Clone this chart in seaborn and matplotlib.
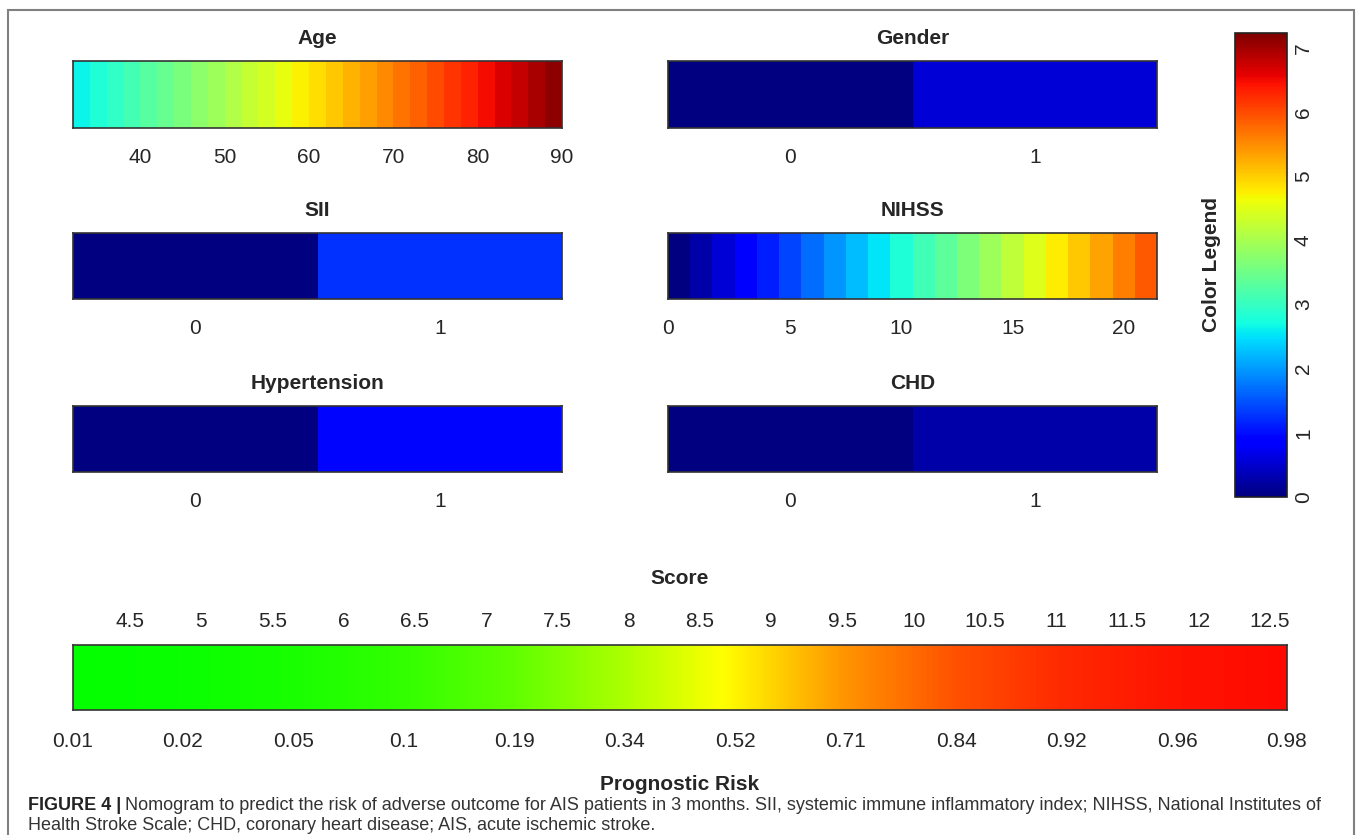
import numpy as np
import pandas as pd
import seaborn as sns
import matplotlib.pyplot as plt
from matplotlib.colors import LinearSegmentedColormap, Normalize
from matplotlib.cm import ScalarMappable
from matplotlib.patches import Rectangle

sns.set_theme(style='white')
plt.rcParams['font.family'] = ['Liberation Sans', 'DejaVu Sans']

# ---------------- values ----------------
age_edges = [32, 34, 36, 38, 40, 42, 44, 46, 48, 50, 52, 54, 56, 58, 60,
             62, 64, 66, 68, 70, 72, 74, 76, 78, 80, 82, 84, 86, 88, 90]
age_points = [2.64, 2.80, 2.96, 3.12, 3.28, 3.44, 3.60, 3.76, 3.92, 4.08,
              4.24, 4.40, 4.56, 4.72, 4.88, 5.04, 5.20, 5.36, 5.52, 5.68,
              5.84, 6.00, 6.16, 6.32, 6.48, 6.64, 6.80, 6.96, 7.12]
age_ticks = [40, 50, 60, 70, 80, 90]

nihss_edges = [0, 0.5, 1.5, 2.5, 3.5, 4.5, 5.5, 6.5, 7.5, 8.5, 9.5, 10.5,
               11.5, 12.5, 13.5, 14.5, 15.5, 16.5, 17.5, 18.5, 19.5, 20.5, 21]
nihss_points = [0.00, 0.28, 0.56, 0.84, 1.12, 1.40, 1.68, 1.96, 2.24, 2.52,
                2.80, 3.08, 3.36, 3.64, 3.92, 4.20, 4.48, 4.76, 5.04, 5.32,
                5.60, 5.88]
nihss_ticks = [0, 5, 10, 15, 20]

binary_levels = ['0', '1']
gender_points = [0.0, 0.56]
sii_points = [0.0, 1.27]
hypertension_points = [0.0, 0.95]
chd_points = [0.0, 0.27]

score_range = [4.1, 12.62]
score_ticks = [4.5, 5, 5.5, 6, 6.5, 7, 7.5, 8, 8.5, 9, 9.5, 10, 10.5, 11,
               11.5, 12, 12.5]
score_labels = ['4.5', '5', '5.5', '6', '6.5', '7', '7.5', '8', '8.5', '9',
                '9.5', '10', '10.5', '11', '11.5', '12', '12.5']
risk_scores = [4.1, 4.87, 5.65, 6.42, 7.2, 7.97, 8.75, 9.52, 10.3, 11.07,
               11.85, 12.62]
risk_values = [0.01, 0.02, 0.05, 0.1, 0.19, 0.34, 0.52, 0.71, 0.84, 0.92,
               0.96, 0.98]
risk_labels = ['0.01', '0.02', '0.05', '0.1', '0.19', '0.34', '0.52', '0.71',
               '0.84', '0.92', '0.96', '0.98']

legend_ticks = [0, 1, 2, 3, 4, 5, 6, 7]
points_max = 7.23

# ---------------- figure ----------------
W, H = 1357, 835
fig = plt.figure(figsize=(W / 100, H / 100), dpi=100)


def box(x0, y0, x1, y1):
    # pixel box (top-left origin) -> figure fraction
    return [x0 / W, 1 - y1 / H, (x1 - x0) / W, (y1 - y0) / H]


def frame(ax):
    for s in ax.spines.values():
        s.set_visible(True)
        s.set_color('#333333')
        s.set_linewidth(1.2)


def draw_bar(ax, title, points, edges=None, ticks=None):
    sns.heatmap(pd.DataFrame([points]), ax=ax, cmap='jet', vmin=0,
                vmax=points_max, cbar=False, yticklabels=False,
                xticklabels=binary_levels if edges is None else False)
    if edges is not None:
        ax.set_xticks(np.interp(ticks, edges, np.arange(len(edges))))
        ax.set_xticklabels([str(t) for t in ticks])
    frame(ax)
    ax.tick_params(axis='x', length=0, pad=14.5, labelsize=15, labelrotation=0)
    ax.set_title(title, fontsize=15, fontweight='bold', pad=12)


rows = [(61, 128), (233, 299), (406, 472)]
cols = [(73, 562), (668, 1157)]

draw_bar(fig.add_axes(box(cols[0][0], rows[0][0], cols[0][1], rows[0][1])),
         'Age', age_points, age_edges, age_ticks)
draw_bar(fig.add_axes(box(cols[1][0], rows[0][0], cols[1][1], rows[0][1])),
         'Gender', gender_points)
draw_bar(fig.add_axes(box(cols[0][0], rows[1][0], cols[0][1], rows[1][1])),
         'SII', sii_points)
draw_bar(fig.add_axes(box(cols[1][0], rows[1][0], cols[1][1], rows[1][1])),
         'NIHSS', nihss_points, nihss_edges, nihss_ticks)
draw_bar(fig.add_axes(box(cols[0][0], rows[2][0], cols[0][1], rows[2][1])),
         'Hypertension', hypertension_points)
draw_bar(fig.add_axes(box(cols[1][0], rows[2][0], cols[1][1], rows[2][1])),
         'CHD', chd_points)

# colour legend
cax = fig.add_axes(box(1235, 33, 1287, 497))
cb = fig.colorbar(ScalarMappable(norm=Normalize(0, points_max), cmap='jet'),
                  cax=cax)
cb.set_ticks(legend_ticks)
cb.outline.set_edgecolor('#222222')
cb.outline.set_linewidth(1.2)
cax.tick_params(length=0, labelsize=15, labelrotation=90, pad=5)
for lab in cax.get_yticklabels():
    lab.set_va('center')
cax.yaxis.set_label_position('left')
cb.set_label('Color Legend', fontsize=15, fontweight='bold', labelpad=10)

# score / risk bar
green_red = LinearSegmentedColormap.from_list(
    'gyr', ['#00ff00', '#ffff00', '#ff0000'])
sax = fig.add_axes(box(73, 645, 1287, 710))
step = (risk_scores[-1] - risk_scores[0]) / (len(risk_scores) - 1)
sax.imshow(np.array([risk_values]), cmap=green_red, vmin=0, vmax=1,
           aspect='auto', interpolation='bilinear',
           extent=[risk_scores[0] - step / 2, risk_scores[-1] + step / 2, 0, 1])
sax.set_xlim(score_range)
sax.set_ylim(0, 1)
sax.set_yticks([])
sax.set_xticks(score_ticks, labels=score_labels)
sax.tick_params(axis='x', top=False, bottom=False, labeltop=True,
                labelbottom=False, length=0, pad=10, labelsize=15)
sax.set_title('Score', fontsize=15, fontweight='bold', pad=20)
frame(sax)
sec = sax.secondary_xaxis('bottom')
sec.set_xticks(risk_scores, labels=risk_labels)
sec.tick_params(length=0, pad=16, labelsize=15)
sec.spines['bottom'].set_visible(False)
sec.set_xlabel('Prognostic Risk', fontsize=15, fontweight='bold', labelpad=17)

# outer frame and caption
fig.patches.append(Rectangle((8 / W, -0.05), (1354 - 8) / W, 1.05 - 10 / H,
                             transform=fig.transFigure, fill=False,
                             edgecolor='#808080', linewidth=1.5))

cap_size = 13
t1 = fig.text(28 / W, 1 - 806 / H, 'FIGURE 4 |', fontsize=cap_size,
              fontweight='bold', va='center', color='#222222')
fig.canvas.draw()
bb = t1.get_window_extent().transformed(fig.transFigure.inverted())
fig.text(bb.x1 + 4 / W, 1 - 806 / H,
         'Nomogram to predict the risk of adverse outcome for AIS patients in 3 months. '
         'SII, systemic immune inflammatory index; NIHSS, National Institutes of',
         fontsize=cap_size, va='center', color='#333333')
fig.text(28 / W, 1 - 826 / H,
         'Health Stroke Scale; CHD, coronary heart disease; AIS, acute ischemic stroke.',
         fontsize=cap_size, va='center', color='#333333')

fig.savefig('out.png', dpi=100)
